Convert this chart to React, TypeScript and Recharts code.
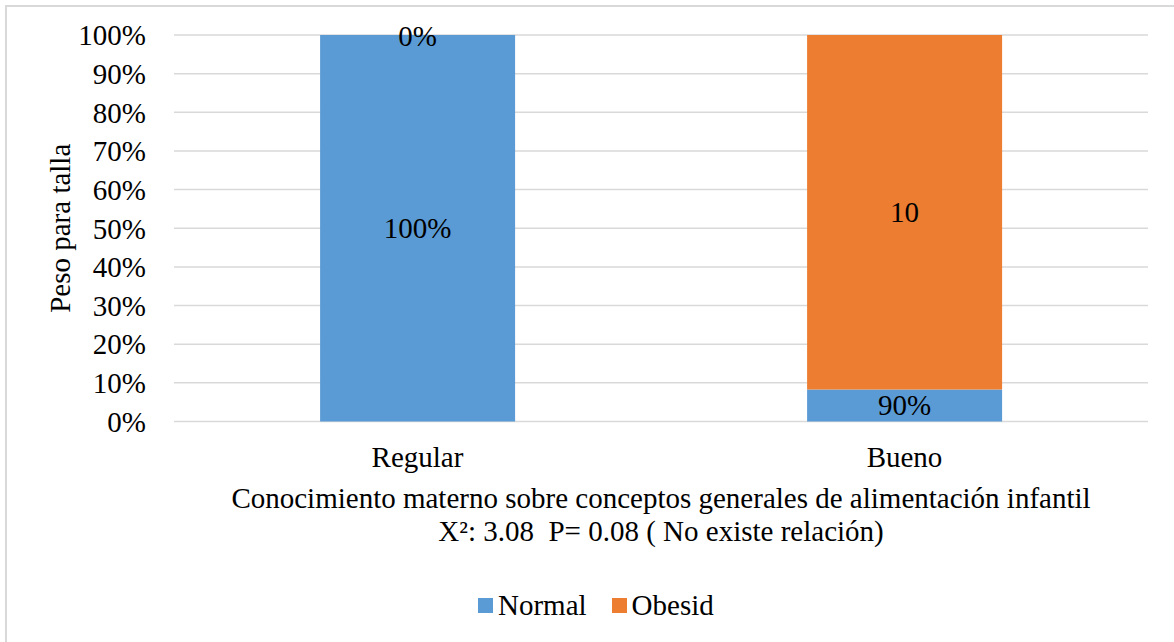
import React from 'react';
import { BarChart, Bar, XAxis, YAxis, CartesianGrid, LabelList, Label } from 'recharts';

// Share of children per weight-for-height group, by maternal knowledge level
const categories = ['Regular', 'Bueno'];
const normalValues = [100, 8.3];
const obesidValues = [0, 91.7];
const normalLabels = ['100%', '90%'];
const obesidLabels = ['0%', '10'];
const yTicks = [0, 10, 20, 30, 40, 50, 60, 70, 80, 90, 100];
const seriesNames = ['Normal', 'Obesid'];
const seriesColors = ['#5B9BD5', '#ED7D31'];
const xTitleLines = [
  'Conocimiento materno sobre conceptos generales de alimentación infantil',
  'X²: 3.08  P= 0.08 ( No existe relación)',
];
const yTitle = 'Peso para talla';

const data = categories.map((category, i) => ({
  category,
  normal: normalValues[i],
  obesid: obesidValues[i],
}));

const FONT = '"Liberation Serif", "Times New Roman", serif';
const FS = 29;

const labelText = (x: number, y: number, text: string) => (
  <text
    x={x}
    y={y}
    textAnchor="middle"
    dominantBaseline="central"
    fontSize={FS}
    fontFamily={FONT}
    fill="#000"
  >
    {text}
  </text>
);

// Centered label inside a stacked segment, looked up by the segment's value
const segmentLabel = (values: number[], texts: string[]) => (props: any) => {
  const { x, y, width, height, value } = props;
  const idx = values.indexOf(Number(value));
  if (idx < 0) return null;
  return labelText(Number(x) + Number(width) / 2, Number(y) + Number(height) / 2, texts[idx]);
};

// Zero-height "Obesid" segments sit on top of the "Normal" segment
const zeroObesidLabel = (props: any) => {
  const { x, y, width, value } = props;
  const idx = normalValues.indexOf(Number(value));
  if (idx < 0 || obesidValues[idx] !== 0) return null;
  return labelText(Number(x) + Number(width) / 2, Number(y) + 1, obesidLabels[idx]);
};

const XTitle = (props: any) => {
  const vb = props.viewBox || {};
  const cx = vb.x + vb.width / 2;
  return (
    <text textAnchor="middle" fontSize={FS} fontFamily={FONT} fill="#000" style={{ whiteSpace: 'pre' }}>
      <tspan x={cx} y={vb.y + 86}>{xTitleLines[0]}</tspan>
      <tspan x={cx} y={vb.y + 119}>{xTitleLines[1]}</tspan>
    </text>
  );
};

const YTitle = (props: any) => {
  const vb = props.viewBox || {};
  const cx = 60;
  const cy = vb.y + vb.height / 2;
  return (
    <text
      x={cx}
      y={cy}
      transform={`rotate(-90, ${cx}, ${cy})`}
      textAnchor="middle"
      dominantBaseline="central"
      fontSize={FS}
      fontFamily={FONT}
      fill="#000"
    >
      {yTitle}
    </text>
  );
};

export default function App() {
  return (
    <div
      style={{
        position: 'absolute',
        left: 0,
        top: 0,
        width: 1174,
        height: 642,
        overflow: 'hidden',
        background: '#fff',
      }}
    >
      <div
        style={{
          position: 'absolute',
          left: 5,
          top: 5,
          width: 1250,
          height: 700,
          border: '2px solid #D9D9D9',
          boxSizing: 'border-box',
        }}
      />
      <BarChart
        width={1174}
        height={642}
        data={data}
        margin={{ top: 35, right: 26, bottom: 160.5, left: 0 }}
        barCategoryGap="30%"
        style={{ position: 'absolute', left: 0, top: 0 }}
      >
        <CartesianGrid vertical={false} stroke="#D9D9D9" strokeWidth={1.5} />
        <XAxis
          dataKey="category"
          height={60}
          axisLine={false}
          tickLine={false}
          tickSize={0}
          tickMargin={25}
          tick={{ fontSize: FS, fontFamily: FONT, fill: '#000' }}
        >
          <Label content={<XTitle />} />
        </XAxis>
        <YAxis
          width={174}
          domain={[0, 100]}
          ticks={yTicks}
          interval={0}
          axisLine={false}
          tickLine={false}
          tickSize={0}
          tickMargin={28}
          tickFormatter={(v: number) => `${v}%`}
          tick={{ fontSize: FS, fontFamily: FONT, fill: '#000' }}
        >
          <Label content={<YTitle />} />
        </YAxis>
        <Bar dataKey="normal" name={seriesNames[0]} stackId="a" fill={seriesColors[0]} isAnimationActive={false}>
          <LabelList dataKey="normal" content={segmentLabel(normalValues, normalLabels)} />
          <LabelList dataKey="normal" content={zeroObesidLabel} />
        </Bar>
        <Bar dataKey="obesid" name={seriesNames[1]} stackId="a" fill={seriesColors[1]} isAnimationActive={false}>
          <LabelList dataKey="obesid" content={segmentLabel(obesidValues, obesidLabels)} />
        </Bar>
      </BarChart>
      <div
        style={{
          position: 'absolute',
          left: 478,
          top: 588,
          height: 34,
          display: 'flex',
          alignItems: 'center',
          fontFamily: FONT,
          fontSize: FS,
          color: '#000',
        }}
      >
        {seriesNames.map((name, i) => (
          <div key={name} style={{ display: 'flex', alignItems: 'center', marginRight: i === 0 ? 25 : 0 }}>
            <span style={{ display: 'inline-block', width: 15, height: 15, background: seriesColors[i], marginRight: 5 }} />
            <span>{name}</span>
          </div>
        ))}
      </div>
    </div>
  );
}
